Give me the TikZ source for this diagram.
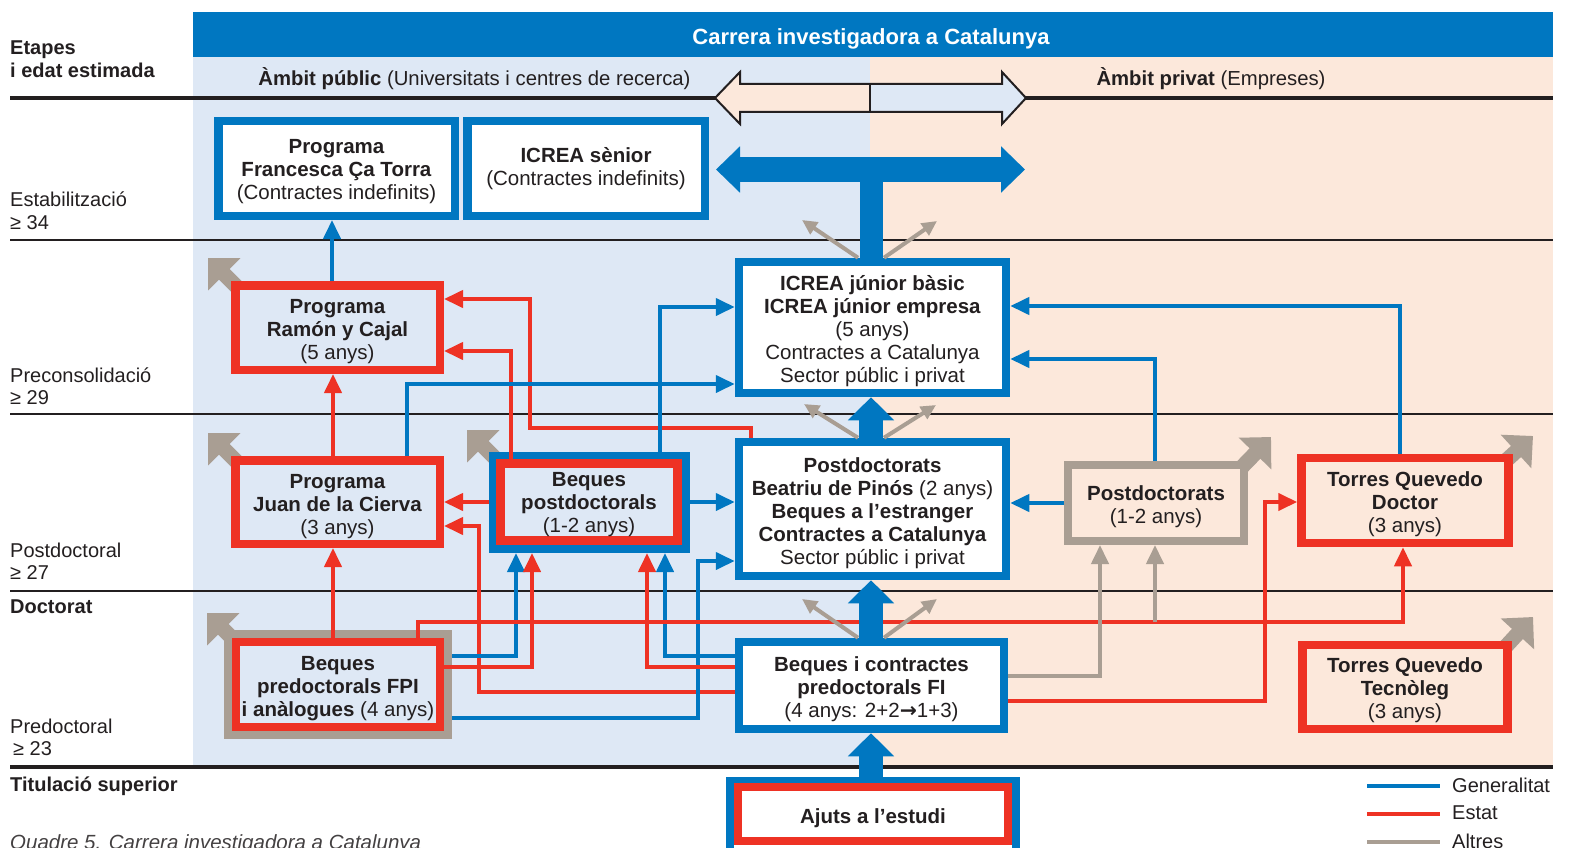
\documentclass[tikz,border=0pt]{standalone}
\usepackage{fontspec}
\setmainfont{Liberation Sans}
\newfontfamily\dejavu{DejaVu Sans}
\usetikzlibrary{arrows.meta,calc}
\pgfdeclarelayer{background}
\pgfsetlayers{background,main}
\definecolor{gblue}{HTML}{0077C1}
\definecolor{ered}{HTML}{EE3224}
\definecolor{agray}{HTML}{A99E93}
\definecolor{pubbg}{HTML}{DEE8F5}
\definecolor{privbg}{HTML}{FCE8DB}
\definecolor{ink}{HTML}{231F20}
\begin{document}
\begin{tikzpicture}[x=1pt,y=-1pt,
  th/.style={text depth=0pt, text height=#1},
  l1/.style={th=18.5pt},
  l2/.style={th=41.5pt},
  l3/.style={th=64.5pt},
  l5/.style={th=110.5pt},
  txt/.style={font=\fontsize{20.5}{23}\selectfont, text=ink, align=center, inner sep=0pt},
  bx/.style={txt, draw=#1, line width=8.5pt},
  sidelab/.style={font=\fontsize{20}{22.5}\selectfont, text=ink, align=left, anchor=west, inner sep=0pt},
  conn/.style={line width=4pt, -{Triangle[width=17pt,length=19pt]}},
  gen/.style={conn, draw=gblue},
  est/.style={conn, draw=ered},
  alt/.style={conn, draw=agray},
  bigup/.style={draw=gblue, line width=24pt, -{Triangle[width=45pt,length=23pt]}},
  cornerarr/.style={draw=agray, line width=15pt, -{Triangle[width=44pt,length=23pt]}},
  brarr/.style={draw=agray, line width=4pt, -{Triangle[width=14pt,length=15pt]}},
  hrule/.style={draw=ink, line width=#1},
  leg/.style={line width=4.5pt},
]
\useasboundingbox (0,0) rectangle (1569,848);

% ---------- boxes ----------
\node[bx=gblue, th=62pt, fill=white, minimum width=236.5pt, minimum height=94.5pt] (francesca) at (336.5,168.5)
  {\textbf{Programa}\\\textbf{Francesca Ça Torra}\\(Contractes indefinits)};
\node[bx=gblue, th=33.5pt, fill=white, minimum width=237.5pt, minimum height=94.5pt] (icreasen) at (586,168.5)
  {\textbf{ICREA sènior}\\(Contractes indefinits)};
\node[bx=ered, l3, minimum width=204.5pt, minimum height=84.5pt] (ramon) at (337.5,327.5)
  {\textbf{Programa}\\\textbf{Ramón y Cajal}\\(5 anys)};
\node[bx=ered, l3, minimum width=204.5pt, minimum height=83.5pt] (juan) at (337.5,502)
  {\textbf{Programa}\\\textbf{Juan de la Cierva}\\(3 anys)};
\node[bx=gblue, line width=8pt, minimum width=193pt, minimum height=93pt] (bpd) at (589.5,502.5) {};
\node[bx=ered, th=60.5pt, line width=9pt, minimum width=177pt, minimum height=77pt] (bpdin) at (589,502)
  {\textbf{Beques}\\\textbf{postdoctorals}\\(1-2 anys)};
\node[bx=gblue, l5, fill=white, minimum width=267pt, minimum height=131pt] (icreajr) at (872.5,327.5)
  {\textbf{ICREA júnior bàsic}\\\textbf{ICREA júnior empresa}\\(5 anys)\\Contractes a Catalunya\\Sector públic i privat};
\node[bx=gblue, l5, fill=white, minimum width=267pt, minimum height=134pt] (beatriu) at (872.5,509)
  {\textbf{Postdoctorats}\\\textbf{Beatriu de Pinós} (2 anys)\\\textbf{Beques a l’estranger}\\\textbf{Contractes a Catalunya}\\Sector públic i privat};
\node[bx=agray, l2, line width=8pt, minimum width=176pt, minimum height=76pt] (pdg) at (1156,503)
  {\textbf{Postdoctorats}\\(1-2 anys)};
\node[bx=ered, l3, minimum width=207pt, minimum height=85pt] (tqd) at (1405,500.5)
  {\textbf{Torres Quevedo}\\\textbf{Doctor}\\(3 anys)};
\node[bx=ered, th=62pt, minimum width=205pt, minimum height=84pt] (tqt) at (1405,687)
  {\textbf{Torres Quevedo}\\\textbf{Tecnòleg}\\(3 anys)};
\node[bx=agray, line width=8pt, minimum width=220pt, minimum height=101pt] (fpi) at (338,684.5) {};
\node[bx=ered, l3, line width=8pt, minimum width=204pt, minimum height=85pt] (fpiin) at (338,684.5)
  {\textbf{Beques}\\\textbf{predoctorals FPI}\\\textbf{i anàlogues} (4 anys)};
\node[bx=gblue, l3, fill=white, minimum width=265pt, minimum height=87pt] (fi) at (871.5,685.5)
  {\textbf{Beques i contractes}\\\textbf{predoctorals FI}\\(4 anys: 2+2{\dejavu\bfseries →}1+3)};
\node[bx=gblue, line width=8pt, fill=white, minimum width=286pt, minimum height=75pt] (ajuts) at (873,818.5) {};
\node[bx=ered, l1, line width=8pt, fill=white, minimum width=270pt, minimum height=54pt] (ajutsin) at (873,814)
  {\textbf{Ajuts a l’estudi}};

% ---------- header texts ----------
\node[font=\bfseries\fontsize{22}{24}\selectfont, text=white, inner sep=0pt, th=17.5pt] (title) at (871,35.5) {Carrera investigadora a Catalunya};
\node[txt, l1, font=\fontsize{20.3}{23}\selectfont] (pub) at (474.5,76.5) {\textbf{Àmbit públic} (Universitats i centres de recerca)};
\node[txt, l1, font=\fontsize{20.3}{23}\selectfont] (priv) at (1211,76.5) {\textbf{Àmbit privat} (Empreses)};

% ---------- side labels ----------
\node[sidelab, font=\bfseries\fontsize{20}{23}\selectfont] (st0) at (10,59) {Etapes\\i edat estimada};
\node[sidelab] (st1) at (10,210.5) {Estabilització\\≥ 34};
\node[sidelab] (st2) at (10,386) {Preconsolidació\\≥ 29};
\node[sidelab] (st3) at (10,561) {Postdoctoral\\≥ 27};
\node[sidelab, font=\bfseries\fontsize{20}{22.5}\selectfont] (st4) at (10,607) {Doctorat};
\node[sidelab] (st5) at (10,737.5) {Predoctoral\\\hspace*{3pt}≥ 23};
\node[sidelab, font=\bfseries\fontsize{20}{22.5}\selectfont] (st6) at (10,786) {Titulació superior};

% ---------- background layer ----------
\begin{pgfonlayer}{background}
  \fill[pubbg] (193,57) rectangle (870,767);
  \fill[privbg] (870,57) rectangle (1553,767);
  \fill[gblue] (193,12) rectangle (1553,57);
  \draw[hrule=3.5pt] (10,98) -- (1553,98);
  \draw[hrule=2pt] (10,240) -- (1553,240);
  \draw[hrule=2pt] (10,414) -- (1553,414);
  \draw[hrule=2pt] (10,591) -- (1553,591);
  \draw[hrule=3.5pt] (10,767) -- (1553,767);
  % hollow double arrow
  \fill[privbg] (715,98) -- (740,72) -- (740,84) -- (870,84) -- (870,112) -- (740,112) -- (740,124) -- cycle;
  \fill[pubbg] (1026,98) -- (1002,72) -- (1002,84) -- (870,84) -- (870,112) -- (1002,112) -- (1002,124) -- cycle;
  \draw[ink, line width=2pt, line join=miter] (715,98) -- (740,72) -- (740,84) -- (1002,84) -- (1002,72) -- (1026,98) -- (1002,124) -- (1002,112) -- (740,112) -- (740,124) -- cycle;
  \draw[ink, line width=2pt] (870,84) -- (870,112);
  % gray corner arrows
  \draw[cornerarr] ($(ramon.north west)+(8,8)$) -- (208,258);
  \draw[cornerarr] ($(juan.north west)+(8,8)$) -- (208,433);
  \draw[cornerarr] ($(bpd.north west)+(8,8)$) -- (467,430);
  \draw[cornerarr] ($(fpi.north west)+(8,8)$) -- (207,613);
  \draw[cornerarr] ($(pdg.north east)+(-8,8)$) -- (1271,437);
  \draw[cornerarr] ($(tqd.north east)+(-8,8)$) -- (1533,436);
  \draw[cornerarr] ($(tqt.north east)+(-8,8)$) -- (1533,617);
\end{pgfonlayer}

% ---------- connectors ----------
\draw[gen] (ramon.north -| 332,0) -- (francesca.south -| 332,0);
\draw[est] (juan.north -| 333,0) -- (ramon.south -| 333,0);
\draw[est] (fpiin.north -| 333,0) -- (juan.south -| 333,0);
\draw[est] (bpd.west |- 0,502) -- (juan.east |- 0,502);
\draw[est] (fi.west |- 0,692) -- (479,692) -- (479,526) -- (juan.east |- 0,526);
\draw[est] (bpdin.north -| 511,0) |- (ramon.east |- 0,351);
\draw[est] (beatriu.north -| 751,0) -- (751,428) -- (530,428) |- (ramon.east |- 0,299);
\draw[gen] (juan.north -| 407,0) |- (icreajr.west |- 0,384);
\draw[gen] (bpd.north -| 660,0) |- (icreajr.west |- 0,307);
\draw[gen] (bpd.east |- 0,502) -- (beatriu.west |- 0,502);
\draw[gen] (fpi.east |- 0,718) -| (698,561) -- (beatriu.west |- 0,561);
\draw[gen] (fpi.east |- 0,656) -| (bpd.south -| 516,0);
\draw[est] (fpiin.east |- 0,667) -| (bpd.south -| 532,0);
\draw[est] (fi.west |- 0,667) -| (bpd.south -| 647,0);
\draw[gen] (fi.west |- 0,656) -| (bpd.south -| 665,0);
\draw[est] (fpiin.north -| 418,0) |- (1403,622) -- (tqd.south -| 1403,0);
\coordinate (split) at (1155,622);
\draw[alt] (fi.east |- 0,676) -| (pdg.south -| 1100,0);
\draw[alt] (split) -- (pdg.south -| 1155,0);
\draw[est] (fi.east |- 0,701) -| (1265,502) -- (tqd.west |- 0,502);
\draw[gen] (pdg.west |- 0,503) -- (beatriu.east |- 0,503);
\draw[gen] (pdg.north -| 1155,0) |- (icreajr.east |- 0,359);
\draw[gen] (tqd.north -| 1400,0) |- (icreajr.east |- 0,306);

% ---------- thick blue arrows ----------
\coordinate (dblL) at (716,169.5);
\coordinate (dblR) at (1025,169.5);
\coordinate (dblM) at (871,169.5);
\draw[gblue, line width=23pt] (icreajr.north -| 871,0) -- (dblM);
\draw[gblue, line width=25pt, {Triangle[width=45pt,length=24pt]}-{Triangle[width=45pt,length=24pt]}] (dblL) -- (dblR);
\draw[bigup] (ajuts.north -| 871,0) -- (fi.south -| 871,0);
\draw[bigup] (fi.north -| 871,0) -- (beatriu.south -| 871,0);
\draw[bigup] (beatriu.north -| 871,0) -- (icreajr.south -| 871,0);

% ---------- small gray branch arrows ----------
\draw[brarr] (icreajr.north -| 858,0) -- (802,220);
\draw[brarr] (icreajr.north -| 884,0) -- (937,221);
\draw[brarr] (beatriu.north -| 858,0) -- (804,404);
\draw[brarr] (beatriu.north -| 884,0) -- (936,405);
\draw[brarr] (fi.north -| 858,0) -- (802,599);
\draw[brarr] (fi.north -| 884,0) -- (937,599);

% ---------- legend ----------
\coordinate (lg1a) at (1367,786); \coordinate (lg1b) at (1440,786);
\coordinate (lg2a) at (1367,814); \coordinate (lg2b) at (1440,814);
\coordinate (lg3a) at (1367,842); \coordinate (lg3b) at (1440,842);
\draw[leg, gblue] (lg1a) -- (lg1b);
\draw[leg, ered] (lg2a) -- (lg2b);
\draw[leg, agray] (lg3a) -- (lg3b);
\node[sidelab] (lgt1) at (1452,785) {Generalitat};
\node[sidelab] (lgt2) at (1452,813) {Estat};
\node[sidelab] (lgt3) at (1452,841) {Altres};

% ---------- caption ----------
\node[font=\itshape\fontsize{20.5}{24}\selectfont, text=ink!85, anchor=base west, inner sep=0pt] (cap) at (10,849) {Quadre 5. Carrera investigadora a Catalunya};
\end{tikzpicture}
\end{document}
